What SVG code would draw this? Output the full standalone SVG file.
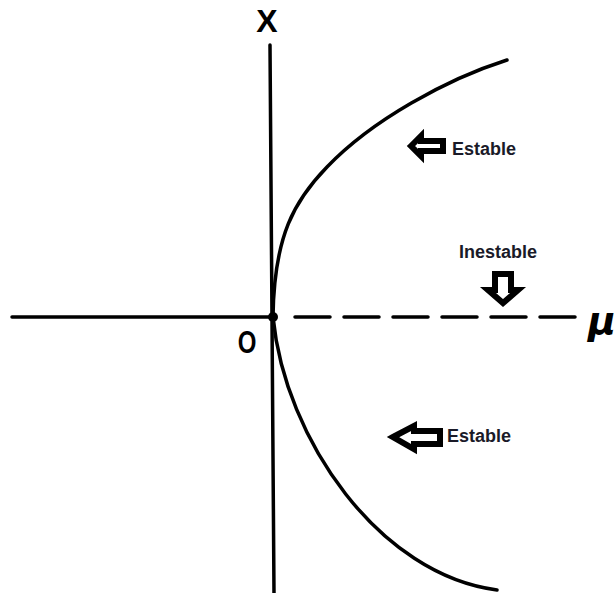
<svg xmlns="http://www.w3.org/2000/svg" width="615" height="593" viewBox="0 0 615 593">
<style>
.ax{stroke:#000;stroke-width:3.5;fill:none;stroke-linecap:round}
.cv{stroke:#000;stroke-width:3.5;fill:none;stroke-linecap:round}
.arr{fill:#fff;stroke:#000;stroke-width:6;stroke-linejoin:miter;stroke-miterlimit:3}
.lbl{font-family:"Liberation Sans",Arial,sans-serif;font-weight:bold;font-size:18px;fill:#1a1a28}
.big{font-family:"Liberation Sans",Arial,sans-serif;font-weight:bold;fill:#000}
</style>
<rect width="615" height="593" fill="#fff"/>
<g id="axes">
<line class="ax" x1="270" y1="45" x2="274" y2="593"/>
<line class="ax" x1="12" y1="317" x2="273" y2="317"/>
<line class="ax" x1="295" y1="317" x2="581" y2="317" stroke-dasharray="35 14" stroke-linecap="butt"/>
</g>
<g id="curves">
<path class="cv" d="M273,317 C274,235 295,200 327,167 C372,120 447,79 507,60"/>
<path class="cv" d="M273,317 C285,440 380,575 497,590"/>
<circle cx="273" cy="317" r="5" fill="#000"/>
</g>
<g id="labels">
<text class="big" x="267" y="32" font-size="32" text-anchor="middle">X</text>
<text class="big" x="0" y="0" font-size="32" text-anchor="middle" transform="translate(247,353) scale(0.75,1)">O</text>
<text x="602" y="334" font-family="DejaVu Sans,sans-serif" font-weight="bold" font-style="italic" font-size="38" text-anchor="middle">μ</text>
</g>
<g id="estable-top">
<path class="arr" d="M411,146 L421,136 L421,141 L443,141 L443,151 L421,151 L421,156 Z"/>
<text class="lbl" x="452" y="155">Estable</text>
</g>
<g id="inestable">
<text class="lbl" x="498" y="258" text-anchor="middle">Inestable</text>
<path class="arr" d="M495,274 L511,274 L511,290 L518,290 L503,303 L488,290 L495,290 Z"/>
</g>
<g id="estable-bottom">
<path class="arr" d="M393,437 L414,426 L414,431 L440,431 L440,444 L414,444 L414,449 Z"/>
<text class="lbl" x="447" y="442">Estable</text>
</g>
</svg>
